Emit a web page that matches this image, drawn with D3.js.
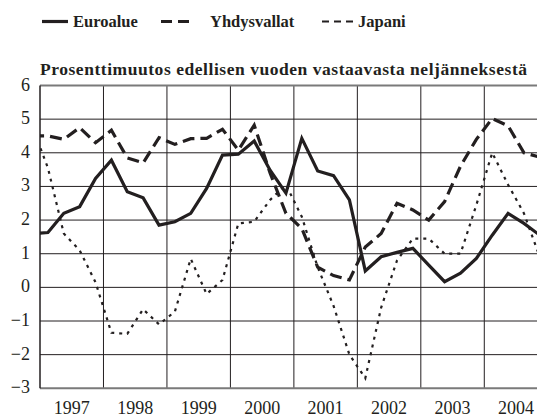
<!DOCTYPE html>
<html>
<head>
<meta charset="utf-8">
<script src="https://cdn.jsdelivr.net/npm/d3@7"></script>
<style>
  body { margin: 0; background: #fff; }
</style>
</head>
<body>
<script>
// quarters from 1996Q4 to 2004Q4
var quarters = ["1996Q4"];
var years = [1997, 1998, 1999, 2000, 2001, 2002, 2003, 2004];
years.forEach(function (y) { for (var q = 1; q <= 4; q++) quarters.push(y + "Q" + q); });

var euro = [1.6, 1.63, 2.2, 2.4, 3.24, 3.78, 2.84, 2.66, 1.85, 1.95, 2.2, 2.94, 3.93, 3.96, 4.35, 3.48, 2.8,
            4.43, 3.46, 3.32, 2.6, 0.49, 0.91, 1.04, 1.16, 0.66, 0.17, 0.42, 0.86, 1.55, 2.2, 1.9, 1.55];
var usa = [4.5, 4.5, 4.4, 4.75, 4.3, 4.67, 3.85, 3.7, 4.45, 4.25, 4.42, 4.43, 4.7, 4.08, 4.82, 3.4, 2.2,
           1.75, 0.6, 0.35, 0.22, 1.2, 1.6, 2.5, 2.3, 2.0, 2.55, 3.6, 4.4, 5.02, 4.8, 4.0, 3.87];
var japan = [4.8, 3.55, 1.6, 1.1, 0.15, -1.35, -1.38, -0.65, -1.1, -0.72, 0.85, -0.2, 0.22, 1.9, 1.95, 2.6, 3.05,
             2.1, 0.6, -0.55, -2.0, -2.7, -0.6, 0.8, 1.45, 1.45, 1.0, 1.0, 2.45, 4.0, 3.05, 2.2, 0.9];
var yTicks = [-3, -2, -1, 0, 1, 2, 3, 4, 5, 6];

var names = ["Euroalue", "Yhdysvallat", "Japani"];
var title = "Prosenttimuutos edellisen vuoden vastaavasta neljänneksestä";

var width = 537, height = 416;
var plotLeft = 40, plotTop = 85.5, plotBottom = 388.3;
var ink = "#231f20";

var svg = d3.select("body").append("svg").attr("width", width).attr("height", height)
    .attr("font-family", "'Liberation Serif', 'Times New Roman', 'DejaVu Serif', serif");

// quarter "1997Q1" -> middle of the quarter
function qpos(s) { return +s.slice(0, 4) + (+s.slice(5) - 0.5) / 4; }

var x = d3.scaleLinear().domain([1997, 2005]).range([plotLeft, plotLeft + 8 * 63.47]);
var y = d3.scaleLinear().domain([-3, 6]).range([plotBottom, plotTop]);

svg.append("clipPath").attr("id", "plot")
    .append("rect").attr("x", plotLeft).attr("y", plotTop - 2)
    .attr("width", width - plotLeft).attr("height", plotBottom - plotTop + 4);

// grid
var grid = svg.append("g");
grid.selectAll("line.h").data(yTicks.filter(function (d) { return d > -3 && d < 6; })).enter().append("line")
    .attr("x1", plotLeft).attr("x2", width)
    .attr("y1", function (d) { return y(d); }).attr("y2", function (d) { return y(d); })
    .attr("stroke", ink).attr("stroke-width", 1);
grid.selectAll("line.v").data(years.slice(1)).enter().append("line")
    .attr("y1", plotTop).attr("y2", plotBottom)
    .attr("x1", function (d) { return x(d); }).attr("x2", function (d) { return x(d); })
    .attr("stroke", ink).attr("stroke-width", 1);
// frame
grid.append("line").attr("x1", plotLeft).attr("x2", width).attr("y1", y(6)).attr("y2", y(6))
    .attr("stroke", "#7a7a7a").attr("stroke-width", 2);
grid.append("line").attr("x1", plotLeft).attr("x2", width).attr("y1", y(-3)).attr("y2", y(-3))
    .attr("stroke", "#7a7a7a").attr("stroke-width", 2);
grid.append("line").attr("x1", plotLeft).attr("x2", plotLeft).attr("y1", plotTop).attr("y2", plotBottom)
    .attr("stroke", ink).attr("stroke-width", 1.5);

// y labels
svg.selectAll("text.yl").data(yTicks).enter().append("text")
    .attr("x", 30).attr("y", function (d) { return y(d) + 5; })
    .attr("text-anchor", "end").attr("fill", ink).style("font-size", "18px")
    .text(function (d) { return d < 0 ? "\u2212" + Math.abs(d) : d; });

// x labels
svg.selectAll("text.xl").data(years).enter().append("text")
    .attr("x", function (d) { return x(d + 0.5); }).attr("y", 413.5)
    .attr("text-anchor", "middle").attr("fill", ink).style("font-size", "18px")
    .text(function (d) { return d; });

// title
svg.append("text").attr("x", 40).attr("y", 75).attr("fill", ink)
    .style("font-size", "17.5px").style("font-weight", "bold")
    .attr("textLength", 487).attr("lengthAdjust", "spacing")
    .text(title);

var line = d3.line()
    .x(function (d, i) { return x(qpos(quarters[i])); })
    .y(function (d) { return y(d); });

var styles = [
    { data: euro, dash: null, w: 3.2 },
    { data: usa, dash: "12,6", w: 3.2 },
    { data: japan, dash: "3,5", w: 2.2 }
];

var lines = svg.append("g").attr("clip-path", "url(#plot)");
lines.selectAll("path").data(styles).enter().append("path")
    .attr("d", function (s) { return line(s.data); })
    .attr("fill", "none").attr("stroke", ink)
    .attr("stroke-width", function (s) { return s.w; })
    .attr("stroke-dasharray", function (s) { return s.dash; });

// legend
var leg = [
    { x1: 42, x2: 68, tx: 73, dash: null, w: 3.2 },
    { x1: 161, x2: 192, tx: 210, dash: "11,6", w: 3.2 },
    { x1: 322, x2: 353, tx: 358, dash: "7,5", w: 2.2 }
];
var lg = svg.append("g");
leg.forEach(function (l, i) {
    lg.append("line").attr("x1", l.x1).attr("x2", l.x2).attr("y1", 21.5).attr("y2", 21.5)
        .attr("stroke", ink).attr("stroke-width", l.w).attr("stroke-dasharray", l.dash);
    lg.append("text").attr("x", l.tx).attr("y", 27).attr("fill", ink)
        .style("font-size", "16.5px").style("font-weight", "bold")
        .text(names[i]);
});
</script>
</body>
</html>
